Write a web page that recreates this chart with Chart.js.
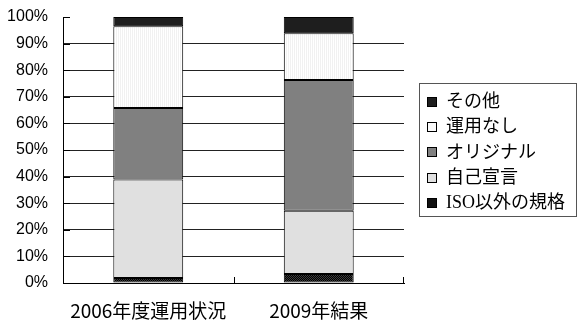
<!DOCTYPE html>
<html>
<head>
<meta charset="utf-8">
<script src="https://cdn.jsdelivr.net/npm/chart.js@4.4.0/dist/chart.umd.min.js"></script>
<style>
  html, body { margin: 0; padding: 0; background: #fff; }
  #wrap { width: 578px; height: 321px; }
</style>
</head>
<body>
<div id="wrap"><canvas id="myChart" width="578" height="321"></canvas></div>
<script>
// data (percent of each bar)
var categories = ["2006年度運用状況", "2009年結果"];
var isoOther = [1.9, 3.4];     // ISO以外の規格
var selfDecl = [37.0, 23.8];   // 自己宣言
var original = [26.9, 49.1];   // オリジナル
var noUse = [30.7, 17.6];      // 運用なし
var others = [3.5, 6.1];       // その他
var yTicks = [0, 10, 20, 30, 40, 50, 60, 70, 80, 90, 100];

// small fill patterns like the excel ones
function makePattern(a, b, kind) {
  var c = document.createElement("canvas");
  c.width = 2; c.height = 2;
  var g = c.getContext("2d");
  g.fillStyle = a; g.fillRect(0, 0, 2, 2);
  g.fillStyle = b;
  if (kind == "stripe") { g.fillRect(0, 0, 1, 2); }
  else { g.fillRect(0, 0, 1, 1); g.fillRect(1, 1, 1, 1); }
  return document.getElementById("myChart").getContext("2d").createPattern(c, "repeat");
}
var checker = makePattern("#000000", "#3a3a3a", "check");
var stripes = makePattern("#ffffff", "#f1f1f1", "stripe");

var datasets = [
  { label: "ISO以外の規格", data: isoOther, backgroundColor: checker, swatch: "#111" },
  { label: "自己宣言", data: selfDecl, backgroundColor: "#e0e0e0" },
  { label: "オリジナル", data: original, backgroundColor: "#808080" },
  { label: "運用なし", data: noUse, backgroundColor: stripes, swatch: "#fafafa" },
  { label: "その他", data: others, backgroundColor: "#1e1e1e" }
];
datasets.forEach(function (d) {
  d.borderColor = "#000";
  d.borderWidth = 1;
  d.borderSkipped = false;
  d.barPercentage = 0.41;
  d.categoryPercentage = 1;
});

// excel style legend box on the right, plus the little inside tick marks
var extras = {
  id: "extras",
  afterDraw: function (chart) {
    var ctx = chart.ctx, a = chart.chartArea, y = chart.scales.y;
    ctx.save();
    ctx.strokeStyle = "#000";
    ctx.lineWidth = 1;
    ctx.beginPath();
    yTicks.forEach(function (v) {
      var py = Math.round(y.getPixelForValue(v)) + 0.5;
      ctx.moveTo(a.left, py); ctx.lineTo(a.left + 7, py);
    });
    var mid = Math.round((a.left + a.right) / 2) + 0.5;
    ctx.moveTo(mid, a.bottom); ctx.lineTo(mid, a.bottom - 6);
    ctx.moveTo(Math.round(a.right) - 0.5, a.bottom); ctx.lineTo(Math.round(a.right) - 0.5, a.bottom - 6);
    ctx.stroke();

    // legend
    ctx.strokeStyle = "#555";
    ctx.strokeRect(419.5, 83.5, 157, 133);
    ctx.font = "18px 'Liberation Serif', 'Noto Sans CJK JP'";
    ctx.textBaseline = "middle";
    ctx.textAlign = "left";
    var list = chart.data.datasets.slice().reverse();
    list.forEach(function (d, i) {
      var cy = 101 + i * 25.4;
      ctx.fillStyle = d.swatch || d.backgroundColor;
      ctx.fillRect(427.5, Math.round(cy - 4.5) + 0.5, 9, 9);
      ctx.strokeStyle = "#000";
      ctx.strokeRect(427.5, Math.round(cy - 4.5) + 0.5, 9, 9);
      ctx.fillStyle = "#000";
      ctx.fillText(d.label, 446, cy + 1);
    });
    ctx.restore();
  }
};

new Chart("myChart", {
  type: "bar",
  data: { labels: categories, datasets: datasets },
  plugins: [extras],
  options: {
    responsive: false,
    animation: false,
    layout: { padding: { top: 17, right: 174, left: 0, bottom: 0 } },
    plugins: { legend: { display: false }, tooltip: { enabled: false } },
    scales: {
      x: {
        stacked: true,
        afterFit: function (s) { s.height = 38; },
        grid: { drawOnChartArea: false, drawTicks: false },
        border: { color: "#000", width: 1 },
        ticks: { color: "#000", padding: 16, font: { family: "'Noto Sans CJK JP'", size: 19 } }
      },
      y: {
        stacked: true,
        min: 0,
        max: 100,
        afterFit: function (s) { s.width = 63; },
        afterBuildTicks: function (s) { s.ticks = yTicks.map(function (v) { return { value: v }; }); },
        grid: {
          drawTicks: true,
          tickLength: 8,
          tickColor: "rgba(0,0,0,0)",
          color: function (c) { return (c.tick && (c.tick.value == 0 || c.tick.value == 100)) ? "rgba(0,0,0,0)" : "#222"; }
        },
        border: { color: "#000", width: 1 },
        ticks: {
          color: "#000",
          padding: 7,
          font: { family: "'Liberation Sans', Arial", size: 16 },
          callback: function (v) { return v + "%"; }
        }
      }
    }
  }
});
</script>
</body>
</html>
